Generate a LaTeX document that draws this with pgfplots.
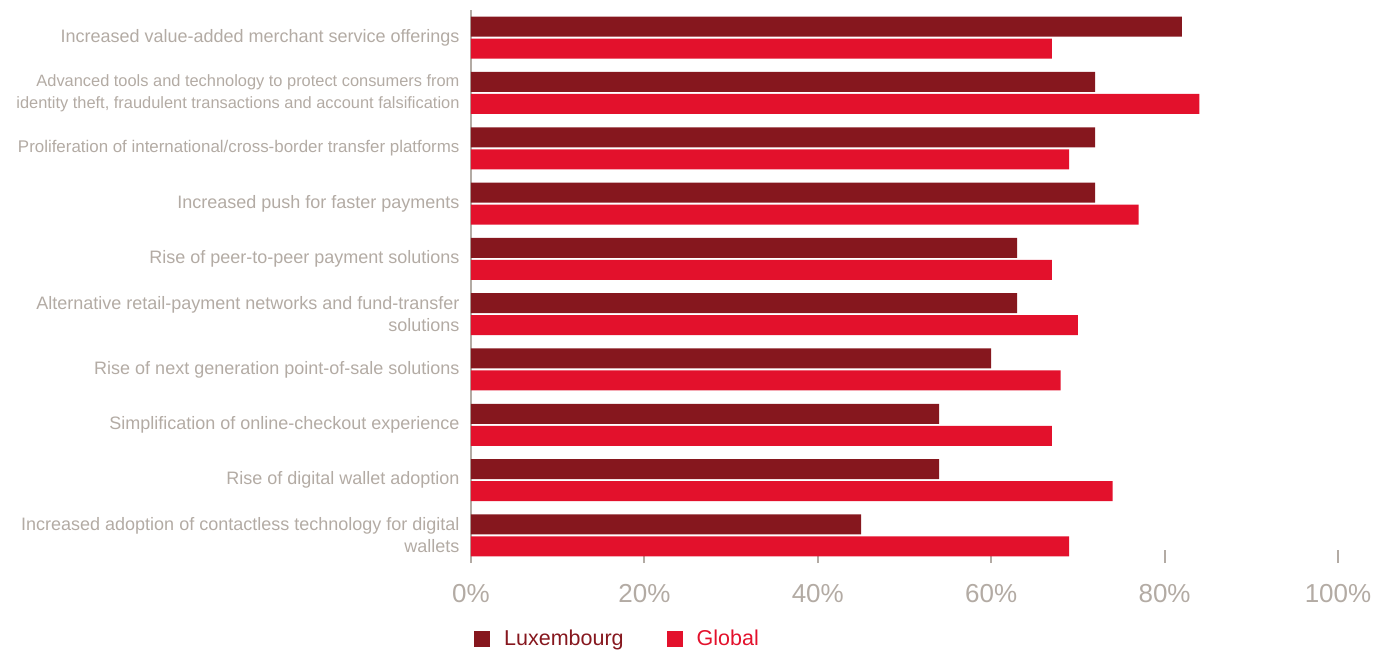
\documentclass[border=0pt]{standalone}
\usepackage{pgfplots}
\pgfplotsset{compat=1.18}
\usepackage{fontspec}
\setmainfont{Liberation Sans}
\usetikzlibrary{calc}
\definecolor{lux}{HTML}{86171E}
\definecolor{glob}{HTML}{E3112C}
\definecolor{txtgrey}{HTML}{B3ABA4}
\newcommand\sm{\fontsize{16.4}{22}\selectfont}

\begin{document}
\begin{tikzpicture}
\begin{axis}[
    name=ax,
    scale only axis,
    width=867pt, height=553pt,
    xmin=0, xmax=100, ymin=0.5, ymax=10.5,
    y dir=reverse,
    xbar, bar width=20pt,
    axis y line*=left, axis x line*=bottom,
    x axis line style={draw=none, -},
    y axis line style={draw=txtgrey, line width=2pt, -},
    xtick={0,20,40,60,80,100},
    xticklabels={0\%,20\%,40\%,60\%,80\%,100\%},
    tick align=inside,
    major tick length=13pt,
    x tick style={draw=txtgrey, line width=2pt},
    y tick style={draw=none},
    xticklabel style={font=\fontsize{26}{30}\selectfont, text=txtgrey, yshift=-18pt},
    ytick={1,...,10},
    yticklabels={
        {Increased value-added merchant service offerings},
        {\sm Advanced tools and technology to protect consumers from\\\sm identity theft, fraudulent transactions and account falsification},
        {\fontsize{16.9}{22}\selectfont Proliferation of international/cross-border transfer platforms},
        {Increased push for faster payments},
        {Rise of peer-to-peer payment solutions},
        {Alternative retail-payment networks and fund-transfer\\solutions},
        {Rise of next generation point-of-sale solutions},
        {Simplification of online-checkout experience},
        {Rise of digital wallet adoption},
        {Increased adoption of contactless technology for digital\\wallets}},
    yticklabel style={align=right, font=\fontsize{18}{22}\selectfont, text=txtgrey, xshift=-8pt},
    legend columns=2,
    legend style={draw=none, fill=none, at={(0,0)}, anchor=north west, yshift=-63pt,
        font=\fontsize{21.5}{24}\selectfont,
        /tikz/every odd column/.append style={column sep=12pt},
        /tikz/every even column/.append style={column sep=41pt}},
    legend image code/.code={\fill[#1] (0pt,-8pt) rectangle (16pt,8pt);},
]
\addplot[fill=lux, draw=none, bar shift=11pt] coordinates {
    (82,1) (72,2) (72,3) (72,4) (63,5) (63,6) (60,7) (54,8) (54,9) (45,10)};
\addlegendentry{\textcolor{lux}{Luxembourg}}
\addplot[fill=glob, draw=none, bar shift=-11pt] coordinates {
    (67,1) (84,2) (69,3) (77,4) (67,5) (70,6) (68,7) (67,8) (74,9) (69,10)};
\addlegendentry{\textcolor{glob}{Global}}
\end{axis}
\pgfresetboundingbox
\path[use as bounding box] ($(ax.south west)+(-471pt,-86pt)$) rectangle ($(ax.north east)+(55pt,10pt)$);
\end{tikzpicture}
\end{document}
